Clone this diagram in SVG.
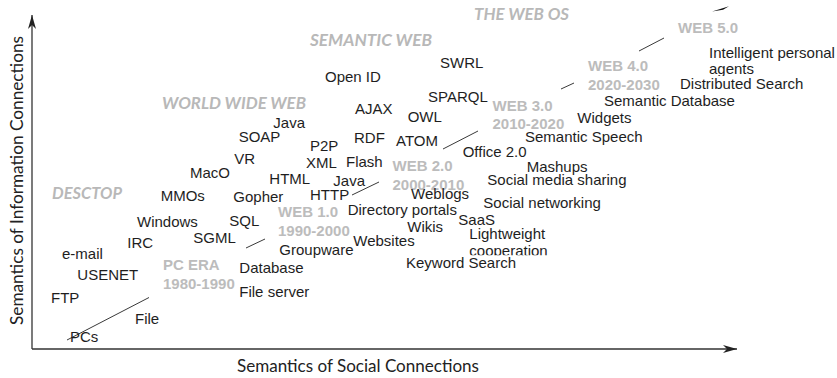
<svg xmlns="http://www.w3.org/2000/svg" width="837" height="378" viewBox="0 0 837 378">
  <defs>
    <style>
      .item { font-family: "Liberation Sans", Arial, sans-serif; font-size: 15px; fill: #1e1e1e; }
      .era { font-family: "Liberation Sans", Arial, sans-serif; font-size: 15px; font-weight: bold; fill: #bcbcbc; }
      .stage { font-family: Lato, "Open Sans", sans-serif; font-size: 17px; font-weight: bold; font-style: italic; fill: #b8b8b8; }
      .axis-title { font-family: Lato, "Open Sans", sans-serif; font-size: 17px; fill: #222; }
      .axis { stroke: #333; stroke-width: 1.3; fill: none; }
      .link { stroke: #222; stroke-width: 0.9; fill: none; }
    </style>
    <marker id="axis-head" viewBox="0 0 14 8" markerWidth="14" markerHeight="8" refX="14" refY="4" orient="auto" markerUnits="userSpaceOnUse">
      <path d="M0,0 L14,4 L0,8 L4,4 Z" fill="#222"/>
    </marker>
    <clipPath id="clip-coop"><rect x="460" y="240" width="120" height="15.2"/></clipPath>
    <clipPath id="clip-agents"><rect x="700" y="60" width="80" height="16"/></clipPath>
  </defs>

  <!-- axes -->
  <g id="axes">
    <line class="axis" x1="32" y1="349" x2="32" y2="15" marker-end="url(#axis-head)"/>
    <line class="axis" x1="32" y1="349" x2="737" y2="349" marker-end="url(#axis-head)"/>
    <text class="axis-title" x="237" y="372" textLength="242" lengthAdjust="spacingAndGlyphs">Semantics of Social Connections</text>
    <text class="axis-title" transform="translate(23,325) rotate(-90)" x="0" y="0" textLength="289" lengthAdjust="spacingAndGlyphs">Semantics of Information Connections</text>
  </g>

  <!-- connectors between eras -->
  <g id="connectors">
    <line class="link" x1="67" y1="340" x2="149" y2="297.5"/>
    <line class="link" x1="246" y1="248" x2="265" y2="239"/>
    <line class="link" x1="352" y1="195" x2="379" y2="182"/>
    <line class="link" x1="443" y1="149" x2="478" y2="131"/>
    <line class="link" x1="561" y1="89" x2="574" y2="83"/>
    <line class="link" x1="639" y1="51" x2="664" y2="38"/>
    <polygon points="712,11.5 729,6.2 723,9.8" fill="#111"/>
  </g>

  <!-- stage headings -->
  <g id="stage-desktop"><text class="stage" x="52" y="199" textLength="70" lengthAdjust="spacingAndGlyphs">DESCTOP</text></g>
  <g id="stage-www"><text class="stage" x="162" y="109" textLength="144" lengthAdjust="spacingAndGlyphs">WORLD WIDE WEB</text></g>
  <g id="stage-semantic"><text class="stage" x="310" y="46" textLength="122" lengthAdjust="spacingAndGlyphs">SEMANTIC WEB</text></g>
  <g id="stage-webos"><text class="stage" x="474" y="20" textLength="95" lengthAdjust="spacingAndGlyphs">THE WEB OS</text></g>

  <!-- era labels -->
  <g id="era-pc"><text class="era" x="163" y="270">PC ERA</text><text class="era" x="163" y="288.5">1980-1990</text></g>
  <g id="era-web1"><text class="era" x="278" y="217">WEB 1.0</text><text class="era" x="278" y="235.5">1990-2000</text></g>
  <g id="era-web2"><text class="era" x="392.5" y="171">WEB 2.0</text><text class="era" x="392.5" y="189.5">2000-2010</text></g>
  <g id="era-web3"><text class="era" x="492.5" y="111">WEB 3.0</text><text class="era" x="492.5" y="128.5">2010-2020</text></g>
  <g id="era-web4"><text class="era" x="588" y="70.7">WEB 4.0</text><text class="era" x="588" y="89.5">2020-2030</text></g>
  <g id="era-web5"><text class="era" x="678" y="32.7">WEB 5.0</text></g>

  <!-- technologies -->
  <g id="pcs"><text class="item" x="70" y="341.7">PCs</text></g>
  <g id="file"><text class="item" x="135" y="324">File</text></g>
  <g id="ftp"><text class="item" x="51" y="303.3">FTP</text></g>
  <g id="usenet"><text class="item" x="77.3" y="280">USENET</text></g>
  <g id="email"><text class="item" x="62" y="259.3">e-mail</text></g>
  <g id="irc"><text class="item" x="127.3" y="247.5">IRC</text></g>
  <g id="windows"><text class="item" x="137" y="227.3">Windows</text></g>
  <g id="sgml"><text class="item" x="193.3" y="243.3">SGML</text></g>
  <g id="sql"><text class="item" x="229.3" y="225.5">SQL</text></g>
  <g id="mmos"><text class="item" x="160.7" y="201">MMOs</text></g>
  <g id="gopher"><text class="item" x="233.3" y="202.3">Gopher</text></g>
  <g id="maco"><text class="item" x="190" y="178.3">MacO</text></g>
  <g id="vr"><text class="item" x="234.3" y="164.3">VR</text></g>
  <g id="soap"><text class="item" x="238.7" y="142.3">SOAP</text></g>
  <g id="java-1"><text class="item" x="273.3" y="127.5">Java</text></g>
  <g id="html"><text class="item" x="269.3" y="184">HTML</text></g>
  <g id="p2p"><text class="item" x="310" y="150.8">P2P</text></g>
  <g id="xml"><text class="item" x="306" y="168.3">XML</text></g>
  <g id="http"><text class="item" x="310" y="200">HTTP</text></g>
  <g id="java-2"><text class="item" x="333.3" y="186">Java</text></g>
  <g id="flash"><text class="item" x="346" y="167.3">Flash</text></g>
  <g id="rdf"><text class="item" x="354" y="142.5">RDF</text></g>
  <g id="ajax"><text class="item" x="355" y="113.5">AJAX</text></g>
  <g id="openid"><text class="item" x="325" y="82.3">Open ID</text></g>
  <g id="swrl"><text class="item" x="440" y="68.3">SWRL</text></g>
  <g id="sparql"><text class="item" x="428" y="102.3">SPARQL</text></g>
  <g id="owl"><text class="item" x="407.7" y="121.7">OWL</text></g>
  <g id="atom"><text class="item" x="396" y="146">ATOM</text></g>
  <g id="office"><text class="item" x="462.7" y="157.3">Office 2.0</text></g>
  <g id="database"><text class="item" x="239.3" y="273.3">Database</text></g>
  <g id="fileserver"><text class="item" x="239.3" y="296.7">File server</text></g>
  <g id="groupware"><text class="item" x="279.3" y="254.7">Groupware</text></g>
  <g id="websites"><text class="item" x="353.3" y="245.5">Websites</text></g>
  <g id="directory"><text class="item" x="347.7" y="215">Directory portals</text></g>
  <g id="weblogs"><text class="item" x="411" y="199.3">Weblogs</text></g>
  <g id="wikis"><text class="item" x="407.3" y="231.7">Wikis</text></g>
  <g id="saas"><text class="item" x="458.3" y="224.7">SaaS</text></g>
  <g id="lightweight"><text class="item" x="469.3" y="239.3">Lightweight</text><text class="item" x="469.3" y="256" clip-path="url(#clip-coop)">cooperation</text></g>
  <g id="keyword"><text class="item" x="406" y="268.3">Keyword Search</text></g>
  <g id="socialnet"><text class="item" x="483.3" y="207.5">Social networking</text></g>
  <g id="socialmedia"><text class="item" x="487.3" y="185">Social media sharing</text></g>
  <g id="mashups"><text class="item" x="526.7" y="171.7">Mashups</text></g>
  <g id="speech"><text class="item" x="525" y="141.7">Semantic Speech</text></g>
  <g id="widgets"><text class="item" x="577.3" y="122.7">Widgets</text></g>
  <g id="semdb"><text class="item" x="604" y="105.5">Semantic Database</text></g>
  <g id="distsearch"><text class="item" x="680" y="88.5">Distributed Search</text></g>
  <g id="agents"><text class="item" x="709" y="57.5">Intelligent personal</text><text class="item" x="709" y="74" clip-path="url(#clip-agents)">agents</text></g>
</svg>
